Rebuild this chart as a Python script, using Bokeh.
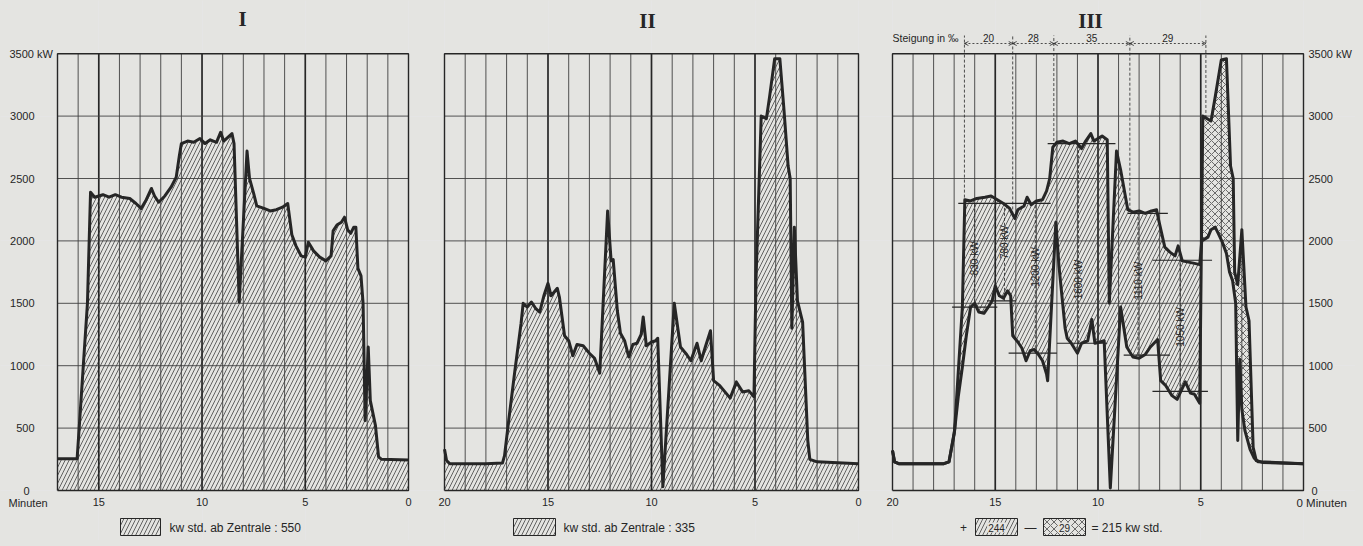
import numpy as np
from bokeh.plotting import figure
from bokeh.layouts import row
from bokeh.models import Range1d, Arrow, OpenHead
from bokeh.core.properties import value
from bokeh.embed import file_html
from bokeh.resources import INLINE

# ---------------- data (minutes before arrival, kW) ----------------
ticks_kw = [0, 500, 1000, 1500, 2000, 2500, 3000, 3500]
ticks_min_I = [15, 10, 5, 0]
ticks_min_II = [20, 15, 10, 5, 0]
ticks_min_III = [20, 15, 10, 5]

t_I = [17.0, 16.05, 15.95, 15.75, 15.55, 15.4, 15.2, 14.8, 14.5, 14.2, 13.9, 13.5, 13.2, 12.95,
       12.7, 12.45, 12.3, 12.1, 11.8, 11.5, 11.25, 11.1, 11.0, 10.7, 10.4, 10.1, 9.85, 9.6, 9.3,
       9.1, 8.95, 8.75, 8.55, 8.45, 8.2, 7.82, 7.7, 7.5, 7.35, 7.0, 6.7, 6.4, 6.1, 5.85, 5.65,
       5.45, 5.2, 5.0, 4.85, 4.6, 4.3, 4.0, 3.75, 3.65, 3.45, 3.25, 3.1, 2.95, 2.8, 2.65, 2.55,
       2.45, 2.3, 2.2, 2.1, 1.95, 1.85, 1.75, 1.6, 1.45, 1.3, 0.0]
kw_I = [255, 255, 500, 1000, 1500, 2390, 2350, 2370, 2350, 2370, 2350, 2340, 2300, 2260,
        2330, 2420, 2360, 2310, 2360, 2430, 2510, 2680, 2780, 2800, 2790, 2820, 2780, 2810, 2790,
        2870, 2800, 2830, 2860, 2780, 1510, 2720, 2500, 2380, 2280, 2260, 2240, 2250, 2270, 2300, 2050,
        1960, 1880, 1870, 1990, 1920, 1870, 1840, 1880, 2080, 2130, 2150, 2190, 2090, 2060, 2110, 2110,
        1780, 1720, 1500, 560, 1150, 720, 640, 520, 270, 250, 245]

t_II = [20.0, 19.9, 19.75, 18.0, 17.2, 17.1, 16.9, 16.6, 16.3, 16.2, 16.0, 15.8, 15.6, 15.4, 15.2,
        15.0, 14.85, 14.7, 14.55, 14.45, 14.2, 14.0, 13.8, 13.6, 13.3, 13.0, 12.75, 12.5, 12.12,
        11.95, 11.85, 11.65, 11.5, 11.3, 11.1, 10.9, 10.7, 10.5, 10.4, 10.25, 10.0, 9.8, 9.7, 9.45,
        8.9, 8.6, 8.3, 8.1, 7.8, 7.6, 7.4, 7.15, 7.0, 6.7, 6.4, 6.2, 5.9, 5.6, 5.3, 5.05, 4.95, 4.7,
        4.45, 4.3, 4.05, 3.8, 3.6, 3.4, 3.3, 3.22, 3.1, 2.95, 2.7, 2.45, 2.35, 2.0, 0.0]
kw_II = [330, 240, 215, 215, 220, 280, 560, 960, 1340, 1500, 1470, 1510, 1460, 1430, 1560,
         1660, 1560, 1590, 1620, 1550, 1240, 1200, 1080, 1170, 1160, 1100, 1060, 940, 2240,
         1840, 1850, 1440, 1260, 1200, 1070, 1170, 1180, 1250, 1390, 1160, 1190, 1200, 1220, 30,
         1500, 1150, 1090, 1040, 1180, 1040, 1150, 1280, 880, 840, 780, 740, 870, 790, 800, 750, 1700, 3000,
         2980, 3150, 3460, 3460, 3050, 2600, 2500, 1300, 2110, 1520, 1350, 400, 250, 230, 215]

# panel III: curve of run I (upper) and run II (lower) on a common track position
t_III_up = [20.0, 19.9, 19.7, 17.5, 17.25, 16.98, 16.6, 16.48, 16.2, 15.9, 15.5, 15.2, 14.9, 14.6,
            14.3, 14.05, 13.9, 13.6, 13.45, 13.25, 13.0, 12.7, 12.5, 12.35, 12.2, 12.0, 11.7, 11.4,
            11.1, 10.8, 10.6, 10.35, 10.2, 10.0, 9.8, 9.55, 9.45, 9.1, 8.9, 8.55, 8.3, 8.0, 7.7, 7.4,
            7.15, 7.05, 6.75, 6.5, 6.25, 6.1, 5.9, 5.6, 5.3, 5.05, 4.95, 4.65, 4.5, 4.3, 4.15, 3.95,
            3.75, 3.6, 3.45, 3.3, 3.2, 3.1, 3.0, 2.85, 2.6, 2.4, 2.2, 0.0]
kw_III_up = [320, 230, 215, 215, 230, 480, 1470, 2330, 2320, 2340, 2350, 2360, 2330, 2300,
             2260, 2180, 2250, 2280, 2350, 2290, 2320, 2330, 2400, 2500, 2750, 2790, 2800, 2780,
             2800, 2740, 2800, 2860, 2800, 2820, 2840, 2810, 1500, 2720, 2570, 2250, 2230, 2240, 2220, 2240,
             2250, 2170, 1950, 1910, 1880, 1960, 1840, 1830, 1820, 1810, 2000, 2030, 2090, 2110, 2060, 1990,
             1900, 1750, 1680, 1500, 400, 1050, 650, 480, 330, 260, 230, 215]
t_III_lo = [20.0, 19.9, 19.7, 17.5, 17.25, 17.0, 16.8, 16.6, 16.4, 16.2, 16.0, 15.8, 15.55, 15.3,
            15.15, 15.0, 14.8, 14.6, 14.4, 14.25, 14.15, 13.9, 13.7, 13.5, 13.3, 13.1, 12.9, 12.7,
            12.5, 12.45, 12.05, 11.9, 11.6, 11.5, 11.3, 11.0, 10.8, 10.5, 10.3, 10.15, 9.9, 9.7, 9.4,
            8.9, 8.6, 8.3, 8.0, 7.7, 7.45, 7.1, 6.95, 6.7, 6.4, 6.15, 5.95, 5.75, 5.5, 5.3, 5.05, 4.9,
            4.5, 4.3, 4.0, 3.75, 3.55, 3.42, 3.35, 3.2, 3.0, 2.8, 2.65, 2.45, 2.3, 2.0, 0.0]
kw_III_lo = [320, 230, 215, 215, 230, 450, 750, 990, 1250, 1470, 1500, 1430, 1420, 1480,
             1520, 1640, 1560, 1540, 1600, 1560, 1240, 1190, 1140, 1040, 1120, 1130, 1090, 1040,
             930, 880, 2150, 1800, 1300, 1220, 1180, 1100, 1180, 1200, 1370, 1180, 1190, 1200, 20,
             1470, 1150, 1070, 1060, 1090, 1150, 1210, 880, 840, 760, 730, 800, 870, 780, 770, 700, 3000,
             2960, 3150, 3450, 3460, 2600, 2500, 1750, 1650, 2090, 1470, 1360, 345, 240, 225, 215]

# gradient sections (Steigung in per mille) and their limits in minutes
grade_bounds = [16.5, 14.15, 12.15, 8.45, 4.75]
grades = ["20", "28", "35", "29"]

# mean power levels of the sections (kW) and their extents (minutes)
mean_up_kw = [2300, 2780, 2220, 1845]
mean_up_from = [16.8, 12.45, 8.55, 7.35]
mean_up_to = [12.3, 9.15, 6.6, 4.45]
mean_lo_kw = [1470, 1520, 1100, 1180, 1085, 795]
mean_lo_from = [17.1, 15.4, 14.35, 12.0, 8.75, 7.35]
mean_lo_to = [14.9, 14.0, 12.0, 9.55, 6.5, 4.65]

# power differences between the runs
diff_t = [16.0, 14.55, 13.05, 10.95, 8.05, 6.0]
diff_lo = [1470, 1520, 1100, 1180, 1085, 795]
diff_hi = [2300, 2300, 2300, 2780, 2220, 1845]
diff_text = ["830 kW", "780 kW", "1200 kW", "1600 kW", "1110 kW", "1050 kW"]

energy_I = 550
energy_II = 335
energy_plus = 244
energy_minus = 29
energy_net = 215

assert len(t_I) == len(kw_I) and len(t_II) == len(kw_II)
assert len(t_III_up) == len(kw_III_up) and len(t_III_lo) == len(kw_III_lo)

# ---------------- style / layout ----------------
PAPER = "#e4e4e1"
INK = "#262626"
GRIDC = "#404040"
HATCH = "#4a4a4a"
SANS = "Liberation Sans"
SERIF = "Liberation Serif"

KPP = 500 / 62.4      # kW per pixel
FIG_H = 540
PAGE_TOP = 0
ZERO_PAGE = 490


def make_panel(width, fig_left, frame_left, frame_right, t_left, t_right):
    s = (frame_right - frame_left) / (t_left - t_right)
    x_start = t_left + (frame_left - fig_left) / s
    x_end = t_right - (fig_left + width - frame_right) / s
    y_end = (ZERO_PAGE - PAGE_TOP) * KPP
    y_start = y_end - FIG_H * KPP
    p = figure(width=width, height=FIG_H,
               x_range=Range1d(x_start, x_end), y_range=Range1d(y_start, y_end),
               output_backend="svg", toolbar_location=None,
               x_axis_location=None, y_axis_location=None, min_border=0)
    p.background_fill_color = PAPER
    p.border_fill_color = PAPER
    p.outline_line_color = None
    X = lambda px: t_left - (px - frame_left) / s
    Y = lambda py: (ZERO_PAGE - py) * KPP
    return p, X, Y


def txt(p, xs, ys, texts, size="11px", align="center", baseline="middle",
        font=SANS, style="normal", angle=0.0, color=INK, bg=None):
    kw = {}
    if bg is not None:
        kw = dict(background_fill_color=bg, padding=1)
    p.text(x=xs, y=ys, text=texts, text_font=value(font), text_font_size=value(size),
           text_align=align, text_baseline=baseline, text_color=color,
           text_font_style=style, angle=angle, **kw)


def draw_grid(p, t_left, t_right):
    mins = list(range(1, int(round(t_left))))
    thin = [m for m in mins if m % 5]
    thick = [m for m in mins if m % 5 == 0]
    p.segment(x0=thin, y0=[0] * len(thin), x1=thin, y1=[3500] * len(thin),
              line_color=GRIDC, line_width=0.9)
    p.segment(x0=thick, y0=[0] * len(thick), x1=thick, y1=[3500] * len(thick),
              line_color=INK, line_width=1.7)
    lv = ticks_kw[1:-1]
    p.segment(x0=[t_left] * len(lv), y0=lv, x1=[t_right] * len(lv), y1=lv,
              line_color=GRIDC, line_width=0.9)


def draw_frame(p, t_left, t_right):
    p.line([t_left, t_right, t_right, t_left, t_left], [0, 0, 3500, 3500, 0],
           line_color=INK, line_width=1.4)


HATCH_KW = dict(fill_alpha=0, hatch_pattern="/", hatch_color=HATCH, hatch_weight=0.85, hatch_scale=8)
CROSS_KW = dict(fill_alpha=0, hatch_pattern="x", hatch_color=HATCH, hatch_weight=0.8, hatch_scale=7)
CURVE_KW = dict(line_color=INK, line_width=3.0, line_join="round")

# ---------------- panel I ----------------
p1, X1, Y1 = make_panel(426, 0, 57, 408, 17.0, 0.0)
p1.varea(x=t_I, y1=0, y2=kw_I, **HATCH_KW)
draw_grid(p1, 17.0, 0.0)
p1.line(t_I, kw_I, **CURVE_KW)
draw_frame(p1, 17.0, 0.0)
txt(p1, ticks_min_I, [Y1(501)] * 4, [str(t) for t in ticks_min_I])
txt(p1, [X1(34)] * 6, ticks_kw[1:-1], [str(k) for k in ticks_kw[1:-1]], align="right")
txt(p1, [X1(29)], [0], ["0"], align="right")
txt(p1, [X1(9)], [3500], ["3500 kW"], align="left")
txt(p1, [X1(8)], [Y1(502)], ["Minuten"], align="left")
txt(p1, [X1(242)], [Y1(18)], ["I"], size="21px", font=SERIF, style="bold")
p1.quad(left=[X1(120)], right=[X1(160)], top=[Y1(518)], bottom=[Y1(535)],
        line_color=INK, line_width=1, **HATCH_KW)
txt(p1, [X1(169)], [Y1(527)], ["kw std. ab Zentrale : %d" % energy_I], align="left", size="12px")

# ---------------- panel II ----------------
p2, X2, Y2 = make_panel(449, 426, 444, 858, 20.0, 0.0)
p2.varea(x=t_II, y1=0, y2=kw_II, **HATCH_KW)
draw_grid(p2, 20.0, 0.0)
p2.line(t_II, kw_II, **CURVE_KW)
draw_frame(p2, 20.0, 0.0)
txt(p2, ticks_min_II, [Y2(501)] * 5, [str(t) for t in ticks_min_II])
txt(p2, [X2(647)], [Y2(20)], ["II"], size="21px", font=SERIF, style="bold")
p2.quad(left=[X2(513)], right=[X2(555)], top=[Y2(518)], bottom=[Y2(535)],
        line_color=INK, line_width=1, **HATCH_KW)
txt(p2, [X2(563)], [Y2(527)], ["kw std. ab Zentrale : %d" % energy_II], align="left", size="12px")

# ---------------- panel III ----------------
p3, X3, Y3 = make_panel(480, 875, 892, 1303, 20.0, 0.0)
tu = np.array(t_III_up)[::-1]
ku = np.array(kw_III_up, dtype=float)[::-1]
tl = np.array(t_III_lo)[::-1]
kl = np.array(kw_III_lo, dtype=float)[::-1]
tg = np.union1d(np.union1d(tu, tl), np.linspace(0, 20, 4001))
ug = np.interp(tg, tu, ku)
lg = np.interp(tg, tl, kl)
top = np.maximum(ug, lg)
p3.varea(x=tg, y1=lg, y2=top, **HATCH_KW)
p3.varea(x=tg, y1=ug, y2=top, **CROSS_KW)
draw_grid(p3, 20.0, 0.0)

# mean levels
p3.segment(x0=mean_up_from, y0=mean_up_kw, x1=mean_up_to, y1=mean_up_kw, line_color=INK, line_width=1.2)
p3.segment(x0=mean_lo_from, y0=mean_lo_kw, x1=mean_lo_to, y1=mean_lo_kw, line_color=INK, line_width=1.2)
# differences
p3.segment(x0=diff_t, y0=diff_lo, x1=diff_t, y1=diff_hi, line_color=INK, line_width=0.8, line_dash="3 2")

p3.line(t_III_lo, kw_III_lo, **CURVE_KW)
p3.line(t_III_up, kw_III_up, **CURVE_KW)
draw_frame(p3, 20.0, 0.0)

diff_label_y = [1860, 1990, 1790, 1690, 1680, 1310]
txt(p3, diff_t, diff_label_y, diff_text, size="10px", angle=np.pi / 2)

# gradient annotation
bt = np.array(grade_bounds)
b_top = np.maximum(np.interp(bt, tu, ku), np.interp(bt, tl, kl))
p3.segment(x0=grade_bounds, y0=list(b_top), x1=grade_bounds, y1=[Y3(35)] * len(grade_bounds),
           line_color=INK, line_width=0.8, line_dash="3 2")
ydim = Y3(43)
for a, b in zip(grade_bounds[:-1], grade_bounds[1:]):
    p3.add_layout(Arrow(x_start=a, y_start=ydim, x_end=b, y_end=ydim,
                        start=OpenHead(size=4, line_color=INK, line_width=0.8),
                        end=OpenHead(size=4, line_color=INK, line_width=0.8),
                        line_color=INK, line_width=0.8, line_dash="2 2"))
mids = [(a + b) / 2 for a, b in zip(grade_bounds[:-1], grade_bounds[1:])]
txt(p3, mids, [Y3(37)] * len(mids), grades, size="10px")
txt(p3, [X3(958)], [Y3(37)], ["Steigung in \u2030"], align="right", size="10.5px")
txt(p3, [X3(1090)], [Y3(20)], ["III"], size="21px", font=SERIF, style="bold")

# axes labels
txt(p3, ticks_min_III, [Y3(501)] * 4, [str(t) for t in ticks_min_III])
txt(p3, [X3(1296)], [Y3(502)], ["0 Minuten"], align="left", size="11.5px")
txt(p3, [X3(1308)] * 6, ticks_kw[1:-1], [str(k) for k in ticks_kw[1:-1]], align="left")
txt(p3, [X3(1311)], [0], ["0"], align="left")
txt(p3, [X3(1308)], [3500], ["3500 kW"], align="left")

# energy legend
p3.quad(left=[X3(975)], right=[X3(1017)], top=[Y3(518)], bottom=[Y3(535)],
        line_color=INK, line_width=1, **HATCH_KW)
p3.quad(left=[X3(1043)], right=[X3(1085)], top=[Y3(518)], bottom=[Y3(535)],
        line_color=INK, line_width=1, **CROSS_KW)
txt(p3, [X3(963)], [Y3(527)], ["+"], size="12px")
txt(p3, [X3(996)], [Y3(527)], [str(energy_plus)], size="10px", bg=PAPER)
txt(p3, [X3(1030)], [Y3(527)], ["\u2014"], size="12px")
txt(p3, [X3(1064)], [Y3(527)], [str(energy_minus)], size="10px", bg=PAPER)
txt(p3, [X3(1091)], [Y3(527)], ["= %d kw std." % energy_net], align="left", size="12px")

layout = row(p1, p2, p3)
html = file_html(layout, INLINE, title="Leistungsdiagramm")
html = html.replace("</head>", "<style>html,body{background:%s;}</style></head>" % PAPER)
open("out.html", "w").write(html)
